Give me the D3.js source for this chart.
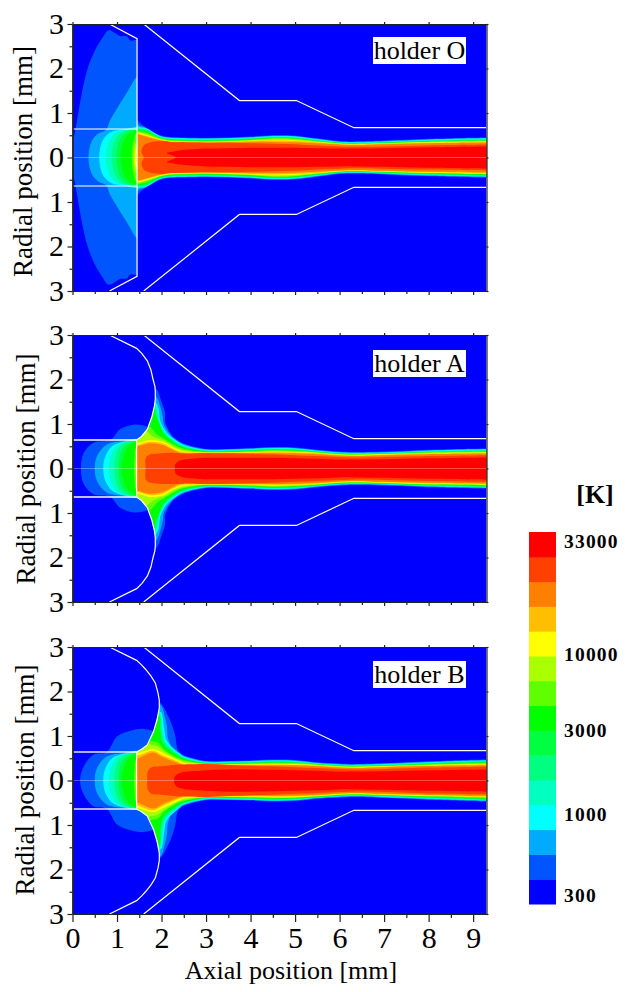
<!DOCTYPE html>
<html>
<head>
<meta charset="utf-8">
<script src="https://cdn.jsdelivr.net/npm/d3@7"></script>
<style>
  html, body { margin: 0; padding: 0; background: #fff; }
  text { font-family: "Liberation Serif", serif; fill: #000; }
</style>
</head>
<body>
<script>
// colour of every temperature band, coldest first
const bandColors = ['#0000ff', '#0055ff', '#00aaff', '#00ffff', '#00ffc0', '#00ff80', '#00ff40', '#00ff00',
  '#60ff00', '#aaff00', '#ffff00', '#ffbf00', '#ff8000', '#ff4000', '#ff0000']
const legendLabels = [['33000', 14], ['10000', 9.45], ['3000', 6.4], ['1000', 3], ['300', -0.25]]
const xTicks = [0, 1, 2, 3, 4, 5, 6, 7, 8, 9]
const rTicks = [-3, -2, -1, 0, 1, 2, 3]

// outer wall and nozzle, [axial mm, radial mm]
const outerWall = [[1.6, 3], [3.75, 1.28], [5.03, 1.28], [6.32, 0.67], [9.3, 0.67]]
const nozzleR = 0.64

const holderO = [[0.83, 3], [1.45, 2.67], [1.45, 0.64]]
const holderA = [[0.83, 3], [1.44, 2.7], [1.56, 2.58], [1.68, 2.42], [1.76, 2.22], [1.81, 2.0], [1.85, 1.85], [1.86, 1.74], [1.86, 1.55], [1.84, 1.4], [1.78, 1.15], [1.68, 0.88], [1.55, 0.72], [1.44, 0.64]]
const holderB = [[0.83, 3], [1.44, 2.7], [1.55, 2.6], [1.64, 2.5], [1.76, 2.35], [1.86, 2.19], [1.92, 1.97], [1.95, 1.8], [1.95, 1.63], [1.9, 1.37], [1.82, 1.1], [1.68, 0.8], [1.55, 0.7], [1.44, 0.64]]

// radial stations shared by the jet contours downstream of x = 2.5
const jetX = [2.5, 3, 3.5, 4, 4.5, 5, 5.5, 6, 6.3, 7, 8, 9.3]

// holder O: contours in front of the holder, head points then radii at jetX
const headO = [
  [[1.4, 0], [1.4, 0.95], [1.5, 0.8], [1.67, 0.66], [1.97, 0.5], [2.2, 0.46]],
  [[1.4, 0], [1.4, 0.8], [1.5, 0.72], [1.65, 0.67], [1.97, 0.49], [2.2, 0.45]],
  [[1.4, 0], [1.4, 0.7], [1.5, 0.68], [1.65, 0.66], [1.97, 0.48], [2.2, 0.44]],
  [[1.4, 0], [1.4, 0.68], [1.5, 0.66], [1.65, 0.645], [1.97, 0.47], [2.2, 0.43]],
  [[1.4, 0], [1.4, 0.66], [1.5, 0.645], [1.65, 0.63], [1.97, 0.46], [2.2, 0.42]],
  [[1.4, 0], [1.4, 0.64], [1.5, 0.63], [1.65, 0.61], [1.97, 0.45], [2.2, 0.41]],
  [[1.4, 0], [1.4, 0.62], [1.5, 0.61], [1.65, 0.59], [1.97, 0.44], [2.2, 0.4]],
  [[1.4, 0], [1.4, 0.6], [1.5, 0.59], [1.65, 0.56], [1.97, 0.43], [2.2, 0.39]],
  [[1.4, 0], [1.4, 0.58], [1.5, 0.57], [1.65, 0.53], [1.97, 0.42], [2.2, 0.38]],
  [[1.4, 0], [1.4, 0.56], [1.5, 0.55], [1.65, 0.51], [1.97, 0.41], [2.2, 0.37]],
  [[1.4, 0], [1.4, 0.54], [1.5, 0.53], [1.65, 0.49], [1.97, 0.4], [2.2, 0.36]],
  [[1.4, 0], [1.4, 0.52], [1.5, 0.51], [1.65, 0.47], [1.97, 0.385], [2.2, 0.35]],
  [[1.6, 0], [1.55, 0.13], [1.6, 0.27], [1.72, 0.33], [2, 0.37], [2.2, 0.35]],
  [[2.32, 0], [2.12, 0.1], [2.25, 0.13], [2.4, 0.16]]
]
const tailO = [
  [.45, .44, .45, .47, .50, .49, .43, .37, .36, .38, .42, .45],
  [.44, .43, .44, .46, .49, .48, .42, .36, .35, .37, .41, .44],
  [.43, .42, .43, .45, .48, .47, .41, .35, .34, .36, .40, .43],
  [.42, .41, .42, .44, .47, .46, .40, .34, .33, .35, .39, .42],
  [.41, .40, .41, .43, .46, .45, .39, .335, .325, .34, .38, .41],
  [.40, .39, .40, .42, .45, .44, .38, .33, .32, .335, .37, .40],
  [.39, .38, .39, .41, .44, .43, .37, .325, .315, .33, .36, .39],
  [.38, .37, .38, .40, .43, .42, .365, .32, .31, .325, .355, .38],
  [.37, .36, .37, .39, .42, .41, .36, .315, .305, .32, .35, .37],
  [.36, .35, .36, .38, .40, .39, .35, .31, .30, .315, .34, .36],
  [.35, .34, .35, .37, .38, .37, .34, .30, .29, .31, .33, .35],
  [.34, .33, .34, .35, .35, .34, .32, .29, .28, .30, .32, .33],
  [.34, .33, .33, .32, .31, .30, .27, .25, .24, .25, .27, .29],
  [.17, .20, .21, .22, .22, .22, .21, .20, .20, .21, .23, .25]
]
// contours inside the holder
const insideO = [
  [[0, 0], [0, 0.35], [0.05, 0.55], [0.13, 1], [0.22, 1.5], [0.34, 2], [0.5, 2.4], [0.68, 2.7], [0.79, 2.85], [0.87, 2.85], [0.96, 2.79], [1.07, 2.73], [1.22, 2.72], [1.3, 2.63], [1.6, 2.63], [1.6, 0]],
  [[0.36, 0], [0.38, 0.2], [0.45, 0.4], [0.58, 0.54], [0.75, 0.62], [0.85, 0.85], [1, 1.1], [1.2, 1.42], [1.5, 1.85], [1.6, 0]],
  [[0.6, 0], [0.62, 0.2], [0.7, 0.42], [0.88, 0.58], [1.15, 0.63], [1.6, 0.66], [1.6, 0]],
  [[0.75, 0], [0.77, 0.2], [0.85, 0.42], [1, 0.57], [1.2, 0.62], [1.6, 0.65], [1.6, 0]],
  [[0.88, 0], [0.9, 0.2], [0.97, 0.42], [1.1, 0.56], [1.25, 0.61], [1.6, 0.64], [1.6, 0]],
  [[0.98, 0], [1, 0.2], [1.06, 0.4], [1.17, 0.54], [1.3, 0.6], [1.6, 0.63], [1.6, 0]],
  [[1.08, 0], [1.1, 0.2], [1.16, 0.38], [1.25, 0.52], [1.35, 0.58], [1.6, 0.62], [1.6, 0]],
  [[1.33, 0], [1.34, 0.2], [1.38, 0.4], [1.43, 0.55], [1.6, 0.58], [1.6, 0]],
  [[1.37, 0], [1.38, 0.2], [1.43, 0.35], [1.6, 0.5], [1.6, 0]],
  [[1.4, 0], [1.41, 0.15], [1.45, 0.25], [1.6, 0.3], [1.6, 0]],
  [[1.43, 0], [1.44, 0.1], [1.6, 0.15], [1.6, 0]]
]

// holder A
const headA = [
  [[1.4, 0], [1.4, 1.9], [1.87, 1.8], [2, 1.5], [2.08, 1.25], [2.08, 1.05], [2.23, 0.75], [2.33, 0.66]],
  [[1.4, 0], [1.4, 1.7], [1.87, 1.62], [1.97, 1.4], [2.03, 1.15], [2.05, 1], [2.18, 0.78], [2.33, 0.64]],
  [[1.4, 0], [1.4, 1.55], [1.87, 1.47], [1.93, 1.36], [1.98, 1.05], [2.12, 0.8], [2.37, 0.6]],
  [[1.4, 0], [1.4, 1.5], [1.86, 1.43], [1.92, 1.3], [1.96, 1.03], [2.09, 0.79], [2.35, 0.59]],
  [[1.4, 0], [1.4, 1.45], [1.85, 1.4], [1.9, 1.25], [1.95, 1.03], [2.07, 0.79], [2.33, 0.58]],
  [[1.4, 0], [1.4, 1.42], [1.84, 1.38], [1.88, 1.2], [1.94, 1.04], [2.05, 0.8], [2.31, 0.58]],
  [[1.4, 0], [1.4, 1.4], [1.82, 1.36], [1.86, 1.2], [1.93, 1.05], [2.04, 0.8], [2.3, 0.57]],
  [[1.4, 0], [1.4, 0.95], [1.75, 0.93], [1.78, 0.9], [1.92, 0.75], [2.04, 0.68], [2.3, 0.52]],
  [[1.4, 0], [1.4, 0.85], [1.6, 0.84], [1.67, 0.83], [1.81, 0.72], [2.08, 0.62], [2.3, 0.49]],
  [[1.4, 0], [1.4, 0.58], [1.46, 0.57], [1.74, 0.64], [2.04, 0.6], [2.25, 0.48], [2.42, 0.41]],
  [[1.4, 0], [1.4, 0.54], [1.46, 0.53], [1.74, 0.6], [2.04, 0.56], [2.25, 0.45], [2.42, 0.38]],
  [[1.4, 0], [1.4, 0.5], [1.46, 0.5], [1.74, 0.565], [2.04, 0.52], [2.25, 0.42], [2.42, 0.35]],
  [[1.64, 0], [1.65, 0.25], [1.75, 0.32], [1.81, 0.33], [2.1, 0.35], [2.3, 0.35]],
  [[2.3, 0], [2.31, 0.1], [2.4, 0.17]]
]
const tailA = [
  [.56, .44, .44, .46, .48, .47, .42, .38, .37, .38, .42, .45],
  [.545, .43, .43, .45, .47, .46, .41, .37, .36, .37, .41, .44],
  [.53, .42, .42, .44, .46, .45, .40, .36, .35, .36, .40, .43],
  [.515, .41, .41, .43, .45, .44, .39, .35, .34, .35, .39, .42],
  [.50, .40, .40, .42, .44, .43, .38, .34, .33, .345, .38, .41],
  [.485, .39, .39, .41, .43, .42, .375, .335, .325, .34, .37, .40],
  [.47, .38, .38, .40, .42, .41, .37, .33, .32, .335, .365, .39],
  [.44, .37, .37, .39, .41, .40, .365, .325, .315, .33, .36, .38],
  [.42, .365, .365, .38, .40, .39, .36, .32, .31, .325, .355, .37],
  [.39, .36, .36, .37, .38, .37, .35, .31, .30, .32, .345, .36],
  [.365, .355, .355, .36, .365, .36, .34, .30, .29, .31, .335, .35],
  [.335, .35, .35, .35, .35, .34, .32, .29, .28, .30, .32, .335],
  [.34, .35, .34, .33, .32, .30, .28, .26, .25, .26, .28, .30],
  [.20, .24, .24, .24, .24, .23, .22, .20, .20, .21, .23, .25]
]
const insideA = [
  [[0.19, 0], [0.25, 0.35], [0.47, 0.58], [0.85, 0.64], [1.07, 0.88], [1.41, 0.99], [1.75, 0.9], [2, 0.6], [2, 0]],
  [[0.5, 0], [0.55, 0.28], [0.77, 0.54], [1.15, 0.62], [1.6, 0.64], [1.6, 0]],
  [[0.69, 0], [0.74, 0.28], [0.89, 0.5], [1.15, 0.6], [1.6, 0.63], [1.6, 0]],
  [[0.82, 0], [0.86, 0.28], [0.98, 0.5], [1.2, 0.6], [1.6, 0.62], [1.6, 0]],
  [[0.94, 0], [0.97, 0.28], [1.07, 0.5], [1.25, 0.595], [1.6, 0.615], [1.6, 0]],
  [[1.03, 0], [1.06, 0.27], [1.16, 0.49], [1.32, 0.59], [1.6, 0.61], [1.6, 0]],
  [[1.1, 0], [1.14, 0.25], [1.24, 0.48], [1.38, 0.58], [1.6, 0.6], [1.6, 0]],
  [[1.38, 0], [1.39, 0.25], [1.43, 0.48], [1.6, 0.55], [1.6, 0]],
  [[1.42, 0], [1.43, 0.2], [1.6, 0.3], [1.6, 0]]
]

// holder B
const headB = [
  [[1.4, 0], [1.4, 1.9], [1.93, 1.78], [2.15, 1.45], [2.3, 1.04], [2.36, 0.7], [2.42, 0.62]],
  [[1.4, 0], [1.4, 1.8], [1.96, 1.72], [2.08, 1.4], [2.12, 1.22], [2.15, 0.93], [2.3, 0.63]],
  [[1.4, 0], [1.4, 1.6], [1.95, 1.55], [2, 1.52], [2.06, 1.16], [2.12, 0.89], [2.42, 0.6]],
  [[1.4, 0], [1.4, 1.58], [1.94, 1.53], [2.03, 1.13], [2.09, 0.87], [2.4, 0.59]],
  [[1.4, 0], [1.4, 1.56], [1.94, 1.52], [2, 1.11], [2.07, 0.85], [2.38, 0.58]],
  [[1.4, 0], [1.4, 1.54], [1.93, 1.51], [1.98, 1.09], [2.05, 0.83], [2.36, 0.575]],
  [[1.4, 0], [1.4, 1.53], [1.92, 1.5], [1.97, 1.07], [2.04, 0.82], [2.34, 0.57]],
  [[1.4, 0], [1.4, 0.95], [1.74, 0.89], [1.93, 0.85], [2.04, 0.71], [2.34, 0.52]],
  [[1.4, 0], [1.4, 0.88], [1.7, 0.82], [1.93, 0.76], [2.06, 0.66], [2.34, 0.49]],
  [[1.4, 0], [1.4, 0.62], [1.46, 0.62], [1.81, 0.71], [2.04, 0.62], [2.42, 0.44]],
  [[1.4, 0], [1.4, 0.56], [1.46, 0.56], [1.81, 0.67], [2.04, 0.56], [2.42, 0.4]],
  [[1.4, 0], [1.4, 0.5], [1.46, 0.5], [1.81, 0.63], [2.04, 0.52], [2.42, 0.37]],
  [[1.68, 0], [1.69, 0.2], [1.78, 0.3], [2, 0.32], [2.4, 0.36]],
  [[2.28, 0], [2.32, 0.12], [2.45, 0.18]]
]
const tailB = [
  [.57, .44, .44, .45, .47, .46, .41, .38, .37, .39, .43, .47],
  [.55, .43, .43, .44, .46, .45, .40, .37, .36, .38, .42, .46],
  [.54, .42, .42, .43, .45, .44, .39, .36, .35, .37, .41, .45],
  [.525, .41, .41, .42, .44, .43, .38, .35, .34, .36, .40, .44],
  [.51, .40, .40, .41, .43, .42, .375, .34, .33, .35, .39, .43],
  [.50, .39, .39, .40, .42, .41, .37, .335, .325, .34, .38, .42],
  [.49, .38, .38, .39, .41, .40, .365, .33, .32, .335, .37, .41],
  [.46, .375, .37, .38, .40, .39, .36, .325, .315, .33, .36, .40],
  [.44, .37, .365, .375, .39, .38, .355, .32, .31, .325, .355, .38],
  [.40, .365, .36, .365, .375, .37, .345, .31, .30, .32, .345, .37],
  [.37, .36, .355, .355, .36, .355, .335, .30, .29, .31, .335, .36],
  [.345, .355, .35, .345, .345, .34, .32, .29, .28, .30, .325, .345],
  [.36, .37, .35, .33, .32, .30, .28, .26, .25, .26, .29, .31],
  [.19, .23, .25, .25, .24, .23, .22, .20, .20, .21, .23, .25]
]
const insideB = [
  [[0.17, 0], [0.25, 0.31], [0.47, 0.58], [0.77, 0.64], [1, 0.99], [1.3, 1.12], [1.6, 1.16], [1.9, 1.07], [2.1, 0.8], [2.1, 0]],
  [[0.5, 0], [0.55, 0.28], [0.77, 0.54], [1.15, 0.62], [1.6, 0.64], [1.6, 0]],
  [[0.69, 0], [0.74, 0.28], [0.89, 0.5], [1.15, 0.6], [1.6, 0.63], [1.6, 0]],
  [[0.82, 0], [0.86, 0.28], [0.98, 0.5], [1.2, 0.6], [1.6, 0.62], [1.6, 0]],
  [[0.94, 0], [0.97, 0.28], [1.07, 0.5], [1.25, 0.595], [1.6, 0.615], [1.6, 0]],
  [[1.03, 0], [1.06, 0.27], [1.16, 0.49], [1.32, 0.59], [1.6, 0.61], [1.6, 0]],
  [[1.1, 0], [1.14, 0.25], [1.24, 0.48], [1.38, 0.58], [1.6, 0.6], [1.6, 0]],
  [[1.38, 0], [1.39, 0.25], [1.43, 0.48], [1.6, 0.55], [1.6, 0]],
  [[1.42, 0], [1.43, 0.2], [1.6, 0.3], [1.6, 0]]
]

const width = 626
const height = 992
const left = 72.5
const right = 486.5
const panels = [
  { name: 'holder O', top: 24, head: headO, tail: tailO, inside: insideO, holder: holderO, labelY: 51, titleX: 32, titleY: 161.5, nozzleAlpha: 0.7 },
  { name: 'holder A', top: 335, head: headA, tail: tailA, inside: insideA, holder: holderA, labelY: 364, titleX: 35, titleY: 469, nozzleAlpha: 1 },
  { name: 'holder B', top: 647, head: headB, tail: tailB, inside: insideB, holder: holderB, labelY: 675, titleX: 34, titleY: 780, nozzleAlpha: 0.9 }
]
const panelH = 267

const svg = d3.select('body').append('svg')
  .attr('width', width)
  .attr('height', height)
  .attr('xmlns', 'http://www.w3.org/2000/svg')
  .style('display', 'block')

const x = d3.scaleLinear().domain([0, 9.3]).range([left, right])

panels.forEach((p, n) => {
  const y = d3.scaleLinear().domain([-3, 3]).range([p.top + panelH, p.top])
  const g = svg.append('g')

  const line = d3.line().x(d => x(d[0])).y(d => y(d[1]))
  // contour is read on the upper half only, mirror it about the axis
  const mirrored = pts => pts.concat(pts.slice().reverse().filter(d => d[1] !== 0).map(d => [d[0], -d[1]]))
  const smooth = pts => line.curve(d3.curveCatmullRomClosed.alpha(0.5))(mirrored(pts))
  const straight = pts => line.curve(d3.curveLinear)(pts)

  const wallX = p.holder[p.holder.length - 1][0]
  const holderFull = [[0, 0], [0, 3]].concat(p.holder, [[wallX, 0]])
  const holderPoly = holderFull.concat(holderFull.slice().reverse().filter(d => d[1] !== 0).map(d => [d[0], -d[1]]))

  const defs = g.append('defs')
  defs.append('clipPath').attr('id', 'plot' + n).append('rect')
    .attr('x', x(0)).attr('y', y(3)).attr('width', x(9.3) - x(0)).attr('height', y(-3) - y(3))
  defs.append('clipPath').attr('id', 'holder' + n).append('path').attr('d', straight(holderPoly) + 'Z')

  const plot = g.append('g').attr('clip-path', `url(#plot${n})`)
  plot.append('rect')
    .attr('x', x(0)).attr('y', y(3)).attr('width', x(9.3) - x(0)).attr('height', y(-3) - y(3))
    .attr('fill', bandColors[0])

  // jet in front of the holder
  const jet = p.head.map((h, i) => {
    const tail = jetX.map((jx, k) => [jx, p.tail[i][k]])
    return h.concat(tail, [[9.6, p.tail[i][11]]])
  })
  plot.append('g').selectAll('path').data(jet).join('path')
    .attr('d', smooth)
    .attr('fill', (d, i) => bandColors[i + 1])

  // holder body hides the jet, then its own contours
  plot.append('path').attr('d', straight(holderPoly) + 'Z').attr('fill', bandColors[0])
  plot.append('g').attr('clip-path', `url(#holder${n})`)
    .selectAll('path').data(p.inside).join('path')
    .attr('d', smooth)
    .attr('fill', (d, i) => bandColors[i + 1])

  // axis of symmetry
  plot.append('path').attr('d', straight([[0, 0], [9.3, 0]]))
    .attr('stroke', '#fff').attr('stroke-opacity', 0.3).attr('fill', 'none')

  // walls
  const wallLines = [
    outerWall,
    outerWall.map(d => [d[0], -d[1]]),
    p.holder,
    p.holder.map(d => [d[0], -d[1]]),
    [[wallX, nozzleR], [wallX, -nozzleR]]
  ]
  plot.append('g').selectAll('path').data(wallLines).join('path')
    .attr('d', straight)
    .attr('fill', 'none').attr('stroke', '#fff').attr('stroke-width', 1.2)
  plot.append('g').selectAll('path').data([[[0, nozzleR], [wallX, nozzleR]], [[0, -nozzleR], [wallX, -nozzleR]]]).join('path')
    .attr('d', straight)
    .attr('fill', 'none').attr('stroke', '#fff').attr('stroke-width', 1.4).attr('stroke-opacity', p.nozzleAlpha)

  // frame and ticks
  const minorR = d3.range(-2.5, 3, 1)
  const minorX = d3.range(0.5, 9.5, 1)
  const axisStyle = a => a.call(s => s.selectAll('path, line').attr('stroke', '#222').attr('stroke-width', 1.2))
  const lastPanel = n === panels.length - 1

  g.append('g').attr('transform', `translate(${left},0)`)
    .call(d3.axisLeft(y).tickValues(rTicks).tickSize(5).tickSizeOuter(0).tickFormat(d => Math.abs(d)))
    .call(axisStyle)
    .call(a => a.selectAll('text').attr('font-size', 30).attr('font-family', '"Liberation Serif", serif').attr('dy', '0.3em').attr('x', -8.5))
  g.append('g').attr('transform', `translate(${left},0)`)
    .call(d3.axisLeft(y).tickValues(minorR).tickSize(3).tickSizeOuter(0).tickFormat(''))
    .call(axisStyle)

  g.append('g').attr('transform', `translate(0,${p.top + panelH})`)
    .call(d3.axisBottom(x).tickValues(xTicks).tickSize(lastPanel ? 8 : 4).tickSizeOuter(0).tickFormat(lastPanel ? d3.format('d') : ''))
    .call(axisStyle)
    .call(a => a.selectAll('text').attr('font-size', 30).attr('font-family', '"Liberation Serif", serif').attr('y', 13))
  g.append('g').attr('transform', `translate(0,${p.top + panelH})`)
    .call(d3.axisBottom(x).tickValues(minorX).tickSize(lastPanel ? 4 : 3).tickSizeOuter(0).tickFormat(''))
    .call(axisStyle)

  g.append('g').attr('transform', `translate(0,${p.top})`)
    .call(d3.axisTop(x).tickValues(xTicks).tickSize(2).tickSizeOuter(0).tickFormat(''))
    .call(axisStyle)
  g.append('g').attr('transform', `translate(${right},0)`)
    .call(d3.axisRight(y).tickValues(rTicks).tickSize(2).tickSizeOuter(0).tickFormat(''))
    .call(axisStyle)

  // panel name on its white box
  const label = g.append('g')
  label.append('rect').attr('x', 373).attr('y', p.labelY - 14).attr('width', 93).attr('height', 27).attr('fill', '#fff')
  label.append('text').attr('x', 419.5).attr('y', p.labelY + 8).attr('text-anchor', 'middle').attr('font-size', 26).text(p.name)

  g.append('text')
    .attr('transform', `translate(${p.titleX},${p.titleY}) rotate(-90)`)
    .attr('text-anchor', 'middle').attr('font-size', 27).text('Radial position [mm]')
})

svg.append('text').attr('x', 291).attr('y', 979).attr('text-anchor', 'middle').attr('font-size', 26).text('Axial position [mm]')

// colour key
const legendY = d3.scaleBand().domain(d3.range(bandColors.length)).range([904, 532])
svg.append('g').selectAll('rect').data(bandColors).join('rect')
  .attr('x', 529)
  .attr('y', (d, i) => legendY(i))
  .attr('width', 27)
  .attr('height', legendY.bandwidth() + 0.5)
  .attr('fill', d => d)
svg.append('g').selectAll('text').data(legendLabels).join('text')
  .attr('x', 564)
  .attr('y', d => legendY(0) + legendY.bandwidth() / 2 - d[1] * legendY.bandwidth() + 4)
  .attr('font-size', 19.5)
  .attr('font-weight', 'bold')
  .attr('letter-spacing', 1.2)
  .text(d => d[0])
svg.append('text').attr('x', 595).attr('y', 503).attr('text-anchor', 'middle')
  .attr('font-size', 26).attr('font-weight', 'bold').text('[K]')
</script>
</body>
</html>
